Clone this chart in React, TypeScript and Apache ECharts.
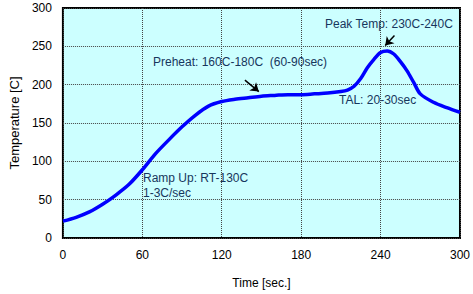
import React, { useEffect, useRef } from "react";
import * as echarts from "echarts";

const times = [0, 10, 20, 30, 40, 50, 60, 70, 80, 90, 100, 110, 120, 130, 140, 150, 160, 170, 180, 190, 200, 210, 215, 220, 225, 230, 235, 240, 245, 250, 255, 260, 265, 270, 280, 290, 300];
const temps = [22, 27, 34, 44, 56, 70, 89, 110, 128, 145, 160, 172, 178, 181, 183, 185, 186, 187, 187, 188, 189, 191, 193, 198, 208, 222, 233, 242, 244, 240, 230, 218, 203, 188, 177, 170, 164];
const xTicks = [0, 60, 120, 180, 240, 300];
const yTicks = [0, 50, 100, 150, 200, 250, 300];
const arrows = [
  { from: [250.5, 264], to: [243.5, 251] },
  { from: [137.5, 206], to: [148, 191] },
];
const notes = [
  { text: "Peak Temp: 230C-240C", x: 325, y: 25 },
  { text: "Preheat: 160C-180C  (60-90sec)", x: 153, y: 63 },
  { text: "TAL: 20-30sec", x: 339, y: 101 },
  { text: "Ramp Up: RT-130C", x: 143, y: 179 },
  { text: "1-3C/sec", x: 143, y: 194 },
];

const FONT = "'Liberation Sans', Arial, sans-serif";
const NOTE_COLOR = "#17365D";

export default function App() {
  const ref = useRef<HTMLDivElement>(null);
  useEffect(() => {
    if (!ref.current) return;
    const chart = echarts.init(ref.current, undefined, { renderer: "svg" });
    chart.setOption({
      animation: false,
      textStyle: { fontFamily: FONT },
      grid: {
        left: 60,
        top: 8,
        right: 11,
        bottom: 55,
        show: true,
        backgroundColor: "#CCFFFF",
        borderColor: "#000",
        borderWidth: 2,
      },
      xAxis: {
        type: "value",
        min: 0,
        max: 300,
        interval: 60,
        name: "Time [sec.]",
        nameLocation: "middle",
        nameGap: 39,
        nameTextStyle: { fontSize: 12, color: "#000", fontFamily: FONT },
        axisLine: { show: false },
        axisTick: { show: false },
        axisLabel: {
          fontSize: 12,
          color: "#000",
          margin: 11,
          formatter: (v: number) => (xTicks.includes(v) ? String(v) : ""),
        },
        splitLine: { show: true, lineStyle: { color: "#444", type: [1, 1], width: 1 } },
      },
      yAxis: {
        type: "value",
        min: 0,
        max: 300,
        interval: 50,
        name: "Temperature [C]",
        nameLocation: "middle",
        nameGap: 38,
        nameTextStyle: { fontSize: 13, color: "#000", fontFamily: FONT },
        axisLine: { show: false },
        axisTick: { show: false },
        axisLabel: {
          fontSize: 12,
          color: "#000",
          margin: 11,
          formatter: (v: number) => (yTicks.includes(v) ? String(v) : ""),
        },
        splitLine: { show: true, lineStyle: { color: "#444", type: [1, 1], width: 1 } },
      },
      series: [
        {
          type: "line",
          data: times.map((t, i) => [t, temps[i]]),
          showSymbol: false,
          smooth: 0.3,
          lineStyle: { color: "#0000FF", width: 3.5 },
          z: 3,
          markLine: {
            silent: true,
            animation: false,
            z: 5,
            label: { show: false },
            lineStyle: { color: "#000", width: 1.5, type: "solid", opacity: 1 },
            itemStyle: { color: "#000" },
            symbol: ["none", "arrow"],
            symbolSize: 8,
            data: arrows.map((a) => [{ coord: a.from }, { coord: a.to }]),
          },
        },
      ],
      graphic: notes.map((n) => ({
        type: "text",
        left: n.x,
        top: n.y - 7,
        z: 10,
        style: { text: n.text, fill: NOTE_COLOR, font: `12px ${FONT}` },
      })),
    });
    return () => chart.dispose();
  }, []);
  return <div ref={ref} style={{ width: 473, height: 294, position: "absolute", left: 0, top: 0 }} />;
}
